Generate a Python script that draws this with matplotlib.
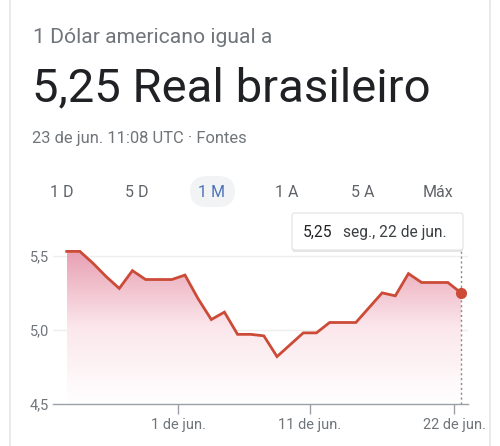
import numpy as np
import pandas as pd
import matplotlib
matplotlib.use('Agg')
import matplotlib.pyplot as plt
import matplotlib.dates as mdates
from matplotlib.patches import FancyBboxPatch
from matplotlib.colors import LinearSegmentedColormap
import matplotlib.patheffects as pe

plt.rcParams['font.family'] = ['Roboto', 'DejaVu Sans']

# dados: cotação diária USD -> BRL (último mês)
dates = pd.date_range('2020-05-23 12:00', '2020-06-22 12:00', freq='D')
rates = [5.53, 5.53, 5.45, 5.36, 5.28, 5.40, 5.34, 5.34, 5.34, 5.37,
         5.21, 5.07, 5.12, 4.97, 4.97, 4.96, 4.82, 4.90, 4.98, 4.98,
         5.05, 5.05, 5.05, 5.15, 5.25, 5.23, 5.38, 5.32, 5.32, 5.32, 5.25]

ranges = ['1 D', '5 D', '1 M', '1 A', '5 A', 'Máx']
range_x = [62, 137, 212, 287, 363, 438]
yticks = [4.5, 5.0, 5.5]
ytick_labels = ['4,5', '5,0', '5,5']
xtick_dates = ['2020-06-01', '2020-06-11', '2020-06-22']
xtick_labels = ['1 de jun.', '11 de jun.', '22 de jun.']

W, H = 500, 446
fig = plt.figure(figsize=(W / 100, H / 100), dpi=100)
fig.patch.set_facecolor('white')

def fx(x):
    return x / W

def fy(y):
    return 1 - y / H

# cartão
card = FancyBboxPatch((fx(10), fy(470)), fx(480), 480 / H,
                      boxstyle='round,pad=0,rounding_size=0.03',
                      transform=fig.transFigure, facecolor='white',
                      edgecolor='#e6e6e6', linewidth=1.2, zorder=-10)
fig.patches.append(card)

grey = '#70757a'
fig.text(fx(33), fy(42.7), '1 Dólar americano igual a', fontsize=15.2,
         color=grey, va='baseline')
fig.text(fx(32), fy(101), '5,25 Real brasileiro', fontsize=34,
         color='#202124', va='baseline')
fig.text(fx(32), fy(143.3), '23 de jun. 11:08 UTC · Fontes', fontsize=11.9,
         color=grey, va='baseline')

# botões de período
pill = FancyBboxPatch((fx(190), fy(207)), fx(45), 31 / H,
                      boxstyle='round,pad=0,rounding_size=0.035',
                      transform=fig.transFigure, facecolor='#f1f3f4',
                      edgecolor='none', zorder=-5)
fig.patches.append(pill)
for lab, x in zip(ranges, range_x):
    c = '#4d72b8' if lab == '1 M' else '#5f6368'
    fig.text(fx(x), fy(197.3), lab, fontsize=11.5, color=c,
             ha='center', va='baseline')

# gráfico
ax = fig.add_axes([fx(53), fy(404), fx(415), (404 - 241) / H])
xnum = mdates.date2num(dates)
x0 = mdates.date2num(pd.Timestamp('2020-05-22 11:00'))
x1 = mdates.date2num(pd.Timestamp('2020-06-23 00:45'))
ymin, ymax = 4.5, 5.6

line_c = '#cc4b37'
poly = ax.fill_between(xnum, rates, ymin, color='none')
cmap = LinearSegmentedColormap.from_list('g', ['#ffffff', '#fbe7ec', '#e8a0b3'])
grad = np.linspace(0, 1, 256).reshape(-1, 1)
img = ax.imshow(grad, cmap=cmap, origin='lower', aspect='auto',
                extent=[xnum[0], xnum[-1], ymin, max(rates)], zorder=1)
img.set_clip_path(poly.get_paths()[0], transform=ax.transData)
ax.plot(xnum, rates, color=line_c, lw=2, zorder=3, solid_joinstyle='miter')
ax.plot(xnum[-1], rates[-1], 'o', color=line_c, ms=7, zorder=4)

for yv in [5.0, 5.5]:
    ax.axhline(yv, color='#eeeeee', lw=1, zorder=0)

ax.set_xlim(x0, x1)
ax.set_ylim(ymin, ymax)
for s in ['top', 'right', 'left']:
    ax.spines[s].set_visible(False)
ax.spines['bottom'].set_color('#9aa0a6')
ax.spines['bottom'].set_linewidth(1)
ax.set_yticks(yticks)
ax.set_yticklabels(ytick_labels)
ax.set_xticks(mdates.date2num(pd.to_datetime(xtick_dates)))
ax.set_xticklabels(xtick_labels)
ax.tick_params(axis='y', length=0, pad=3, labelsize=10.5, labelcolor=grey)
ax.tick_params(axis='x', length=7, width=1, color='#9aa0a6', pad=3,
               labelsize=10.5, labelcolor=grey)
ax.patch.set_alpha(0)

# linha pontilhada do cursor
ax.axvline(xnum[-1], ymin=0, ymax=1, color='#888888', lw=1,
           linestyle=(0, (1.5, 2)), zorder=2, clip_on=False)

# tooltip
tip = FancyBboxPatch((fx(292), fy(250)), fx(171), 37 / H,
                     boxstyle='round,pad=0,rounding_size=0.006',
                     transform=fig.transFigure, facecolor='white',
                     edgecolor='#e2e2e2', linewidth=0.8, zorder=10)
tip.set_path_effects([pe.SimplePatchShadow(offset=(0, -1.5), shadow_rgbFace='#bbbbbb',
                                           alpha=0.35), pe.Normal()])
fig.patches.append(tip)
fig.text(fx(303), fy(236.5), '5,25', fontsize=11.2, color='#202124',
         va='baseline', zorder=11)
fig.text(fx(343), fy(236.5), 'seg., 22 de jun.', fontsize=11.2,
         color='#3c4043', va='baseline', zorder=11)

fig.savefig('out.png', dpi=100)
